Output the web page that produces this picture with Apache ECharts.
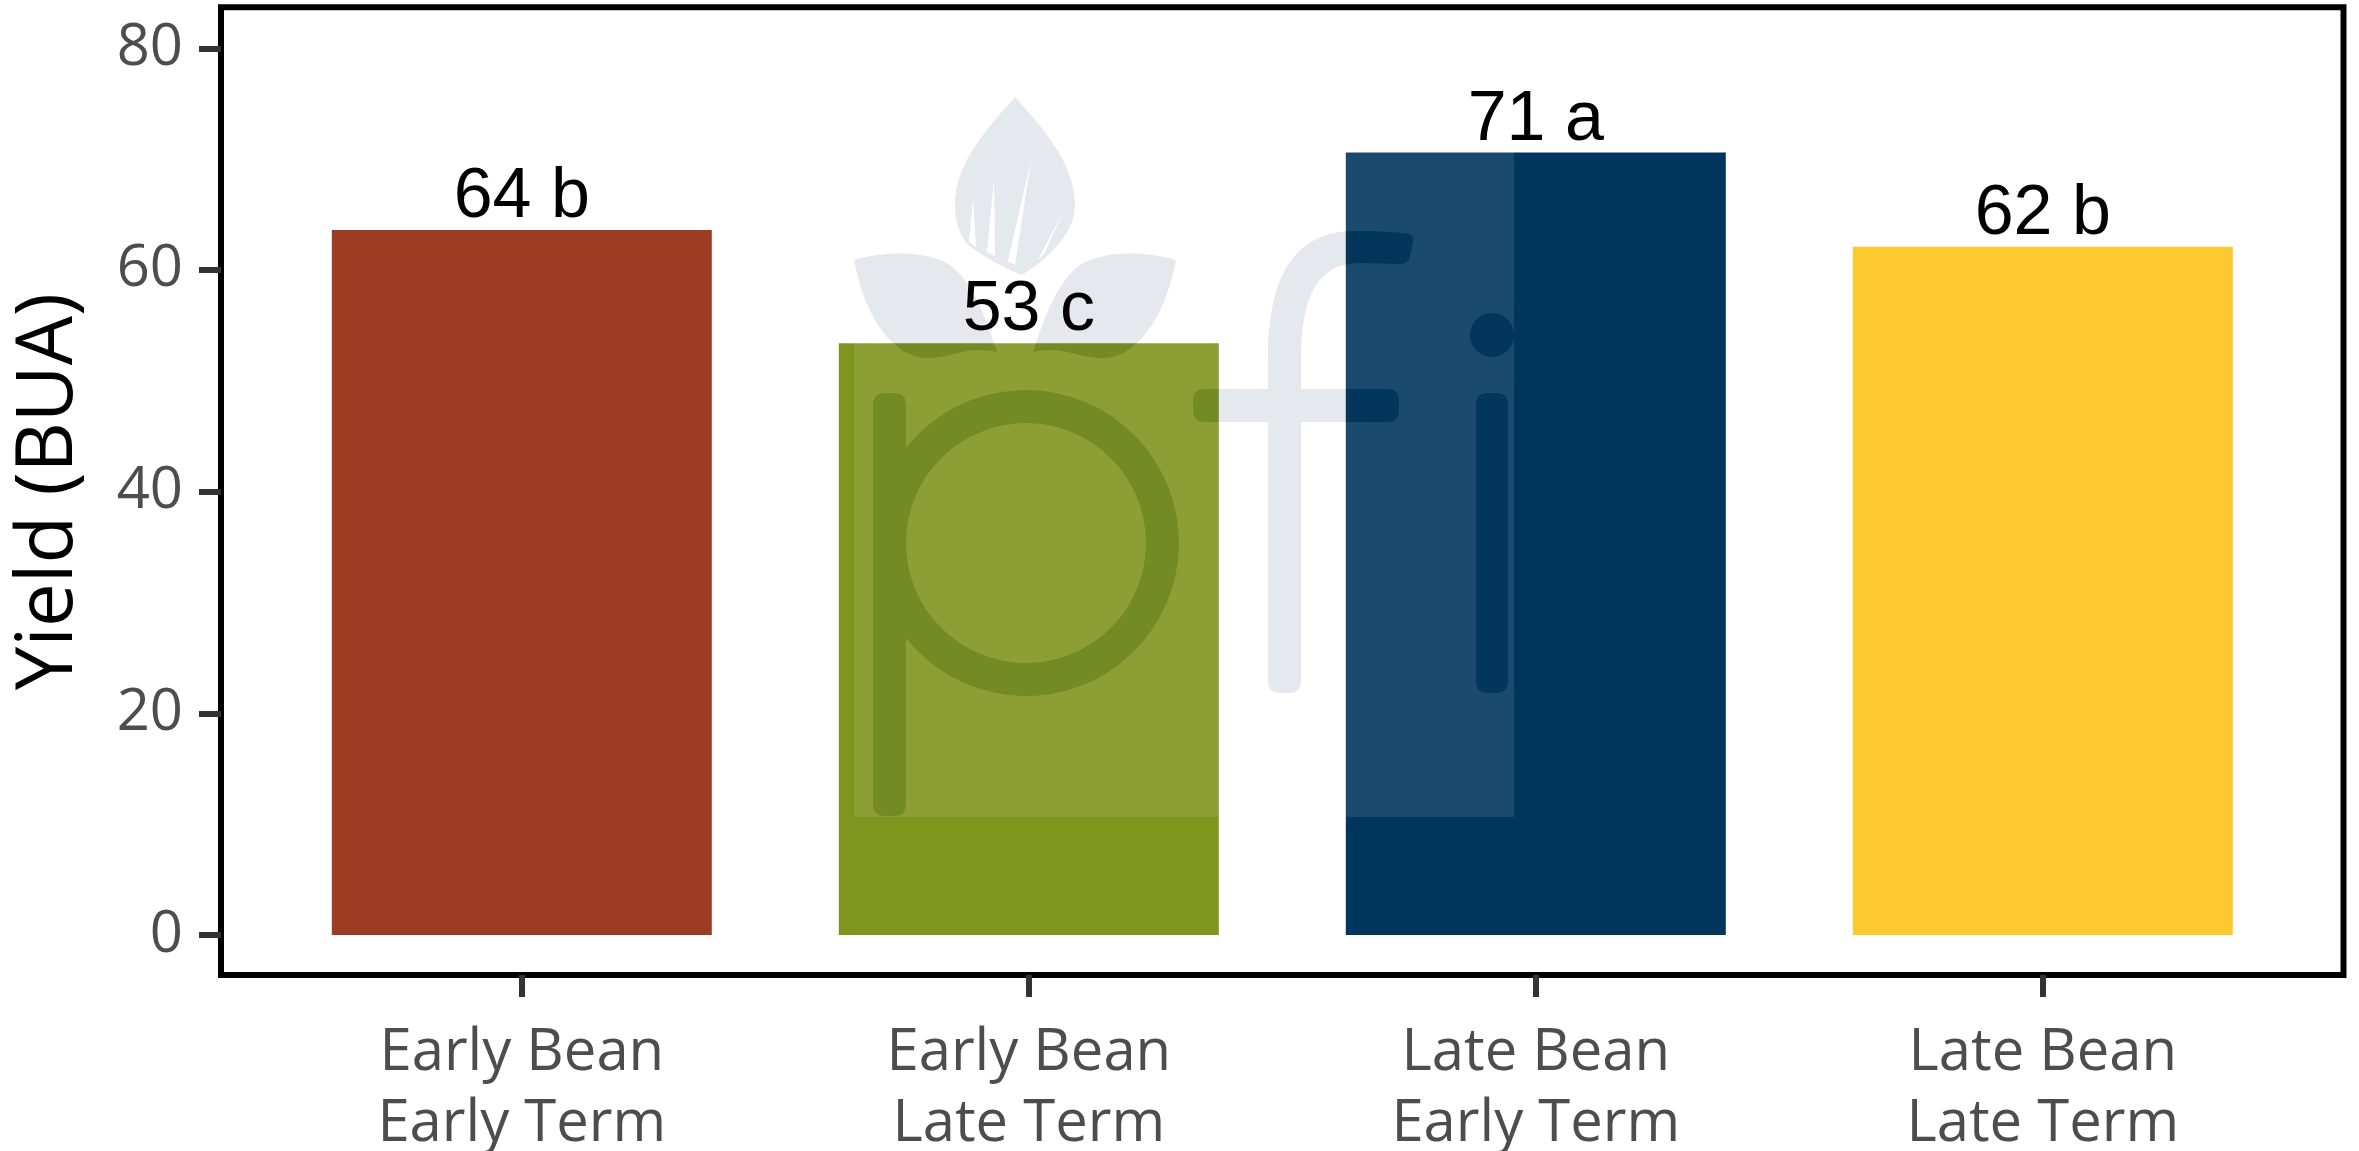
<!DOCTYPE html>
<html>
<head>
<meta charset="utf-8">
<script src="https://cdn.jsdelivr.net/npm/echarts@6/dist/echarts.min.js"></script>
<style>
html,body{margin:0;padding:0;background:#fff;}
#chart{width:2359px;height:1151px;}
</style>
</head>
<body>
<div id="chart"></div>
<script>
// ---- data ----
const categories = ['Early Bean\nEarly Term', 'Early Bean\nLate Term', 'Late Bean\nEarly Term', 'Late Bean\nLate Term'];
const yields = [63.6, 53.4, 70.6, 62.1];
const letters = ['b', 'c', 'a', 'b'];
const barColors = ['#9C3D23', '#80951E', '#00365D', '#FEC82F'];
const yTicks = [0, 20, 40, 60, 80];
const yTitle = 'Yield (BUA)';

// ---- watermark (decorative logo, not data) ----
const WM_RECT = 'M854 90 L1514 90 L1514 817 L854 817 Z';
const WM_GLYPHS = [
  // p
  'M873 405 L873 804 Q873 816 885 816 L894 816 Q906 816 906 804 L906 638 A153 153 0 1 0 906 448 L906 405 Q906 393 894 393 L885 393 Q873 393 873 405 Z',
  'M1146 543 A120 120 0 1 1 906 543 A120 120 0 1 1 1146 543 Z',
  // f
  'M1268 389 L1205 389 Q1193 389 1193 401 L1193 410 Q1193 422 1205 422 L1268 422 L1268 681 Q1268 693 1280 693 L1289 693 Q1301 693 1301 681 L1301 422 L1387 422 Q1399 422 1399 410 L1399 401 Q1399 389 1387 389 L1301 389 L1301 360 C1301 295 1318 263 1360 263 L1400 264 Q1408 264 1410 256 L1413 242 Q1415 234 1405 233 C1390 232 1375 231 1355 231 C1295 231 1268 275 1268 360 Z',
  // i
  'M1514 335 A22 22 0 1 0 1470 335 A22 22 0 1 0 1514 335 Z',
  'M1476 405 L1476 681 Q1476 693 1488 693 L1496 693 Q1508 693 1508 681 L1508 405 Q1508 393 1496 393 L1488 393 Q1476 393 1476 405 Z',
  // centre leaf + slits
  'M1015 97 C985 130 955 165 955 205 C955 222 960 235 967 244 C985 258 1005 268 1022 275 C1032 268 1042 262 1047 256 C1065 240 1075 222 1075 205 C1075 165 1045 130 1015 97 Z',
  'M973 200 L976 247 L969 242 Z',
  'M994 180 L995 256 L987 252 Z',
  'M1031 160 L1015 265 L1008 261 Z',
  'M1063 212 L1044 254 L1038 260 Z',
  // side leaves
  'M854 260 C865 320 895 358 927 358 C955 358 965 345 997 352 C985 315 970 275 945 262 C920 250 880 252 854 260 Z',
  'M1033 352 C1065 345 1075 358 1103 358 C1135 358 1165 320 1176 260 C1150 252 1110 250 1085 262 C1060 275 1045 315 1033 352 Z'
].join(' ');

const chart = echarts.init(document.getElementById('chart'), null, {renderer: 'canvas'});
const grayFont = 'Open Sans';

const option = {
  animation: false,
  backgroundColor: '#ffffff',
  grid: [
    {left: 268.3, right: 62.7, top: 48.3, bottom: 216, containLabel: false, outerBoundsMode: 'none'},
    {left: 221, right: 15.5, top: 7.3, bottom: 176, show: true, borderColor: '#000000', borderWidth: 6, backgroundColor: 'transparent', outerBoundsMode: 'none'}
  ],
  xAxis: [
    {
      type: 'category', gridIndex: 0, data: categories, offset: 40, position: 'bottom',
      axisLine: {show: false, onZero: false},
      axisTick: {show: true, alignWithLabel: true, length: 22, lineStyle: {color: '#333333', width: 6}},
      axisLabel: {interval: 0, margin: 42.5, fontFamily: grayFont, fontSize: 58, lineHeight: 71, color: '#4D4D4D'},
      splitLine: {show: false}
    },
    {type: 'value', gridIndex: 1, show: false, min: 0, max: 1}
  ],
  yAxis: [
    {
      type: 'value', gridIndex: 0, min: yTicks[0], max: yTicks[yTicks.length - 1], interval: yTicks[1] - yTicks[0], offset: 47.3,
      axisLine: {show: false, onZero: false},
      axisTick: {show: true, length: 22, lineStyle: {color: '#333333', width: 6}},
      axisLabel: {margin: 38, fontFamily: grayFont, fontSize: 58, color: '#4D4D4D'},
      splitLine: {show: false},
      name: yTitle, nameLocation: 'middle', nameGap: 132,
      nameTextStyle: {fontFamily: grayFont, fontSize: 78, color: '#000000'}
    },
    {type: 'value', gridIndex: 1, show: false, min: 0, max: 1}
  ],
  series: [
    {
      type: 'bar', xAxisIndex: 0, yAxisIndex: 0, z: 2, barWidth: 380,
      data: yields.map((v, i) => ({value: v, itemStyle: {color: barColors[i]}})),
      label: {show: false}
    },
    {
      type: 'custom', coordinateSystem: 'none', z: 5, silent: true,
      data: [0],
      renderItem: function () {
        return {
          type: 'group',
          children: [
            {type: 'path', shape: {pathData: WM_RECT + ' ' + WM_GLYPHS}, style: {fill: 'rgba(255,255,255,0.10)'}},
            {type: 'path', shape: {pathData: WM_GLYPHS}, style: {fill: 'rgba(17,53,87,0.11)'}}
          ]
        };
      }
    },
    {
      type: 'bar', xAxisIndex: 0, yAxisIndex: 0, z: 10, barWidth: 380, barGap: '-100%',
      data: yields.map((v) => ({value: v})),
      itemStyle: {color: 'rgba(0,0,0,0)'},
      label: {
        show: true, position: 'top', distance: -3,
        fontFamily: 'Liberation Sans, Arial, sans-serif', fontSize: 70, color: '#000000',
        formatter: p => Math.round(yields[p.dataIndex]) + ' ' + letters[p.dataIndex]
      }
    }
  ]
};
chart.setOption(option);
</script>
</body>
</html>
